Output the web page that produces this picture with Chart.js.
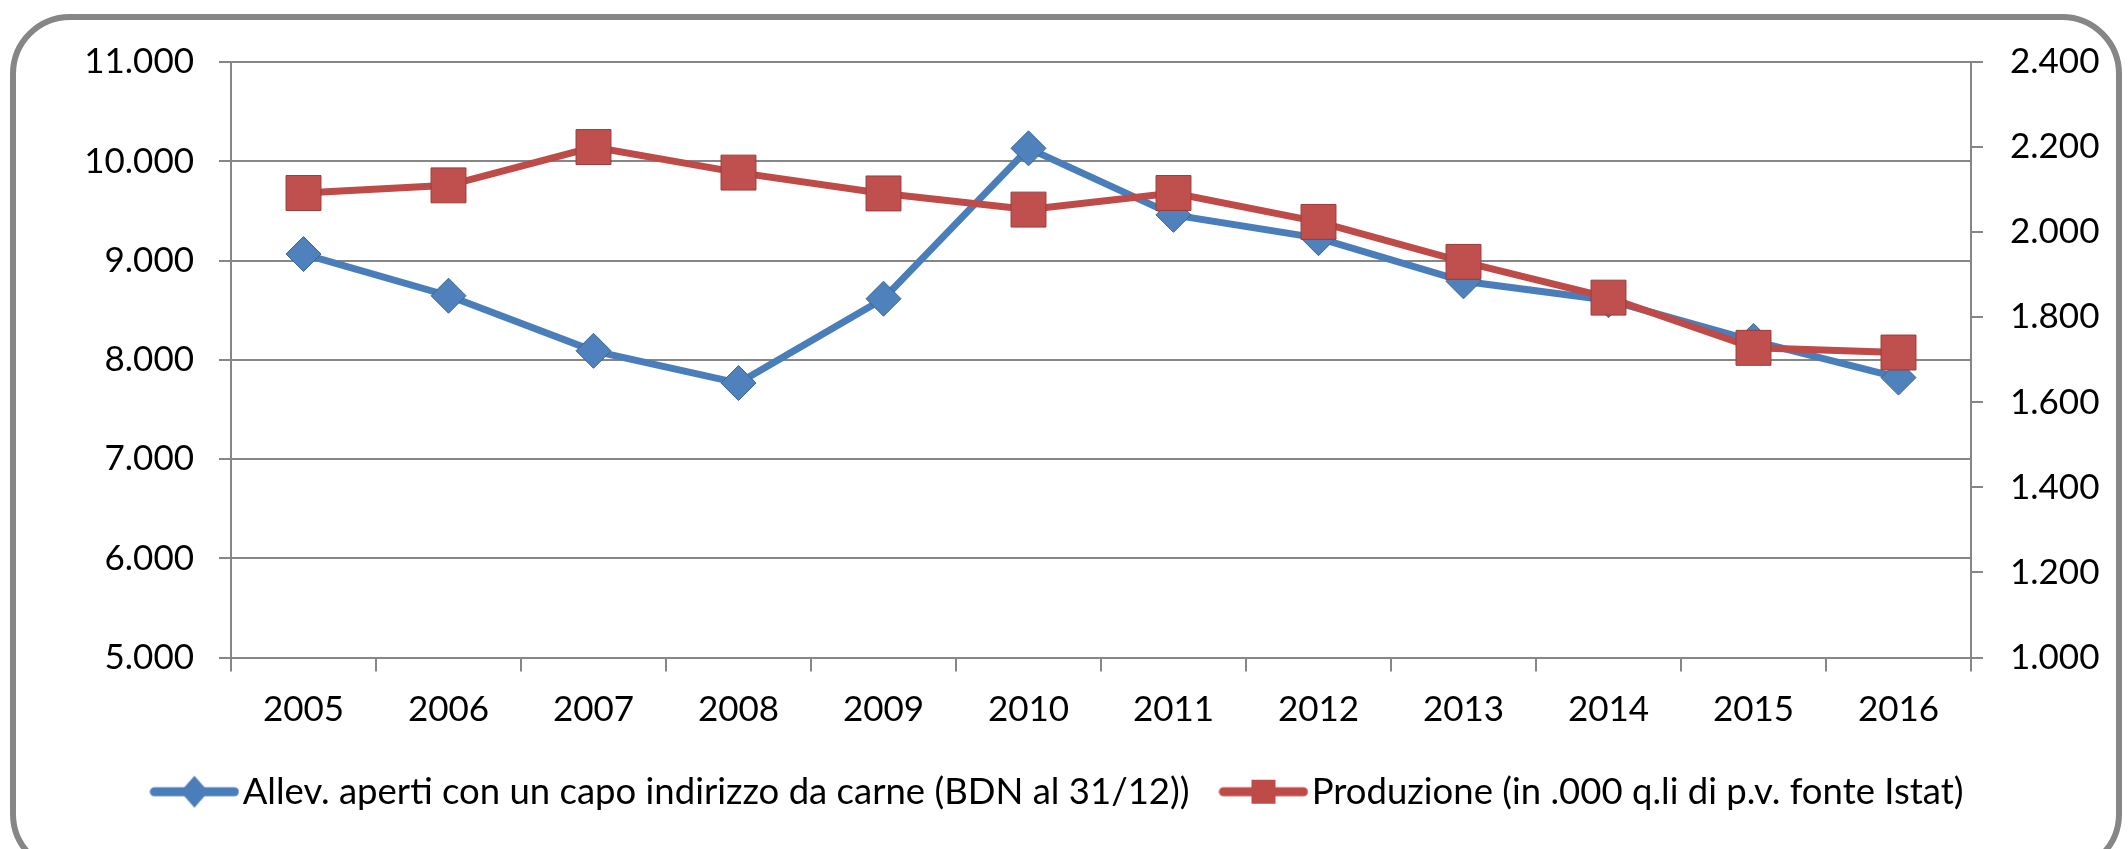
<!DOCTYPE html>
<html lang="it">

<head>
    <meta charset="UTF-8">
    <title>Allevamenti e produzione</title>
    <script src="https://cdn.jsdelivr.net/npm/chart.js"></script>
    <style>
        html, body { margin: 0; padding: 0; background: #fff; }
        .cornice {
            position: absolute; left: 10px; top: 14px; width: 2112px; height: 860px;
            border: 6px solid #868686; border-radius: 60px; box-sizing: border-box;
        }
        .grafico { position: absolute; left: 0; top: 0; width: 2128px; height: 849px; }
    </style>
</head>

<body>
    <div class="cornice"></div>
    <div class="grafico"><canvas id="chart1"></canvas></div>

<script>
    // dati
    const anni = ['2005', '2006', '2007', '2008', '2009', '2010', '2011', '2012', '2013', '2014', '2015', '2016'];
    const allevamenti = [9065, 8645, 8090, 7765, 8615, 10130, 9460, 9225, 8790, 8600, 8190, 7820];
    const produzione = [2092, 2110, 2200, 2140, 2091, 2053, 2092, 2024, 1930, 1846, 1728, 1717];
    const tickSinistra = [5000, 6000, 7000, 8000, 9000, 10000, 11000];
    const tickDestra = [1000, 1200, 1400, 1600, 1800, 2000, 2200, 2400];
    const nomeAllevamenti = 'Allev. aperti con un capo indirizzo da carne (BDN al 31/12))';
    const nomeProduzione = 'Produzione (in .000 q.li di p.v. fonte Istat)';

    const BLU = '#4A7EBB', ROSSO = '#BE4B48';
    const GRIGIO = '#868686';
    const fontAssi = { family: 'Lato', size: 35 };
    const fontLegenda = { family: 'Lato', size: 36.5 };

    function formatta(v) {
        return String(v).replace(/\B(?=(\d{3})+(?!\d))/g, '.');
    }

    // icona della legenda: linea con il marker sopra
    function iconaLegenda(colore, forma) {
        const c = document.createElement('canvas');
        c.width = 90; c.height = 36;
        const ctx = c.getContext('2d');
        ctx.strokeStyle = colore;
        ctx.lineWidth = 9;
        ctx.lineCap = 'round';
        ctx.beginPath(); ctx.moveTo(5, 18); ctx.lineTo(85, 18); ctx.stroke();
        ctx.fillStyle = colore;
        ctx.beginPath();
        if (forma == 'rombo') {
            ctx.moveTo(45, 2); ctx.lineTo(59, 18); ctx.lineTo(45, 34); ctx.lineTo(31, 18);
        } else {
            ctx.rect(33, 6, 24, 24);
        }
        ctx.closePath(); ctx.fill();
        return c;
    }

    new Chart(document.getElementById('chart1'), {
        type: 'line',
        data: {
            labels: anni,
            datasets: [{
                label: nomeAllevamenti,
                data: allevamenti,
                yAxisID: 'y',
                order: 2,
                borderColor: BLU,
                borderWidth: 7,
                pointStyle: 'rectRot',
                pointRadius: 17.5,
                pointBackgroundColor: '#4F81BD',
                pointBorderColor: '#3A6595',
                pointBorderWidth: 1
            }, {
                label: nomeProduzione,
                data: produzione,
                yAxisID: 'y1',
                order: 1,
                borderColor: ROSSO,
                borderWidth: 7,
                pointStyle: 'rect',
                pointRadius: 24.7,
                pointBackgroundColor: '#C0504D',
                pointBorderColor: '#9A3C3A',
                pointBorderWidth: 1
            }]
        },
        options: {
            responsive: true,
            maintainAspectRatio: false,
            animation: false,
            layout: { padding: { top: 62, left: 0, right: 0, bottom: 29 } },
            plugins: {
                tooltip: { enabled: false },
                legend: {
                    position: 'bottom',
                    labels: {
                        usePointStyle: true,
                        pointStyleWidth: 60,
                        padding: 44,
                        color: '#000',
                        font: fontLegenda,
                        generateLabels: () => [
                            { text: nomeAllevamenti, pointStyle: iconaLegenda(BLU, 'rombo'), fillStyle: BLU, strokeStyle: BLU, lineWidth: 0, datasetIndex: 0 },
                            { text: nomeProduzione, pointStyle: iconaLegenda(ROSSO, 'quadrato'), fillStyle: ROSSO, strokeStyle: ROSSO, lineWidth: 0, datasetIndex: 1 }
                        ]
                    }
                }
            },
            scales: {
                x: {
                    offset: true,
                    grid: { offset: true, drawOnChartArea: false, color: GRIGIO, lineWidth: 2, tickLength: 14 },
                    border: { color: GRIGIO, width: 2 },
                    ticks: { color: '#000', font: fontAssi, padding: 17, maxRotation: 0 },
                    afterFit: s => { s.height = 72; }
                },
                y: {
                    position: 'left',
                    min: 5000,
                    max: 11000,
                    grid: { color: GRIGIO, lineWidth: 2, tickLength: 12 },
                    border: { color: GRIGIO, width: 2 },
                    ticks: { color: '#000', font: fontAssi, padding: 25, callback: v => formatta(v) },
                    afterBuildTicks: s => { s.ticks = tickSinistra.map(v => ({ value: v })); },
                    afterFit: s => { s.width = 231; }
                },
                y1: {
                    position: 'right',
                    min: 1000,
                    max: 2400,
                    grid: { drawOnChartArea: false, color: GRIGIO, lineWidth: 2, tickLength: 12 },
                    border: { color: GRIGIO, width: 2 },
                    ticks: { color: '#000', font: fontAssi, padding: 27, callback: v => formatta(v) },
                    afterBuildTicks: s => { s.ticks = tickDestra.map(v => ({ value: v })); },
                    afterFit: s => { s.width = 157; }
                }
            }
        }
    });
</script>
</body>

</html>
